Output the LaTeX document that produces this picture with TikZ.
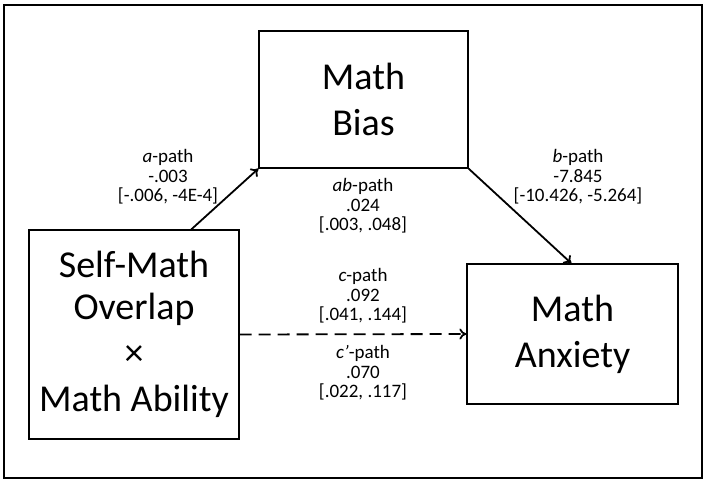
\documentclass[tikz,border=0pt]{standalone}
\usepackage{fontspec}
\setmainfont{Carlito}
\usetikzlibrary{arrows.meta}
\tikzset{
	varbox/.style={draw, line width=1.3pt, align=center, inner sep=0pt,
		font=\fontsize{38}{46}\selectfont},
	pathlab/.style={align=center, font=\fontsize{19}{19.5}\selectfont},
	patharrow/.style={line width=1.8pt, -{To[length=7pt,width=11pt]}}
}
\begin{document}
\begin{tikzpicture}[x=1pt,y=-1pt]
		\useasboundingbox (0,0) rectangle (708,484);
		\draw[line width=1.5pt] (4,5) rectangle (702,478);
		\node[varbox, minimum width=209pt, minimum height=137pt] (bias) at (363.5,99.5) {Math\\Bias};
		\node[varbox, minimum width=210pt, minimum height=209pt] (self) at (134,334.5) {\raisebox{-4pt}{Self-Math}\\Overlap\\×\\Math Ability};
		\node[varbox, minimum width=211pt, minimum height=140pt] (anx) at (572.5,334) {Math\\Anxiety};
		\draw[patharrow] ([xshift=163pt]self.north west) -- (bias.south west);
		\draw[patharrow] (bias.south east) -- ([xshift=105pt]anx.north west);
		\draw[patharrow, dashed, dash pattern=on 12pt off 7pt] (self.east) -- (anx.west);
		\node[pathlab] (alab) at (168,177) {\textit{a}-path\\-.003\\{[}-.006, -4E-4]};
		\node[pathlab] (blab) at (578,177) {\textit{b}-path\\-7.845\\{[}-10.426, -5.264]};
		\node[pathlab] (ablab) at (363,206) {\textit{ab}-path\\.024\\{[}.003, .048]};
		\node[pathlab] (clab) at (363,296) {\textit{c}-path\\.092\\{[}.041, .144]};
		\node[pathlab] (cplab) at (363,373) {\textit{c'}-path\\.070\\{[}.022, .117]};
\end{tikzpicture}
\end{document}
